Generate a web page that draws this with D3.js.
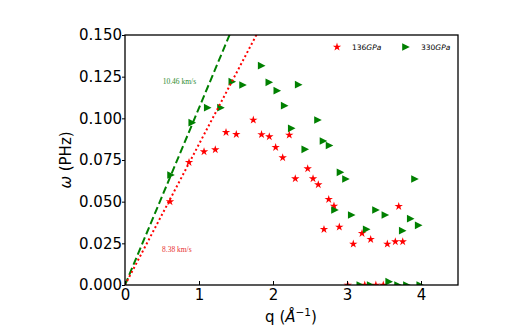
<!DOCTYPE html>
<html><head><meta charset="utf-8">
<script src="https://cdn.jsdelivr.net/npm/d3@7"></script>
<style>body{margin:0;background:#fff}</style>
</head><body>
<svg id="c" width="531" height="336"></svg>
<script>
// ---- data ----
const q136 = [0.608,0.865,1.068,1.220,1.365,1.504,1.734,1.845,1.950,2.036,2.131,2.220,2.301,2.469,2.541,2.612,2.689,2.753,2.824,2.896,3.085,3.203,3.320,3.545,3.653,3.753,3.699,3.01,3.24,3.39,3.49];
const w136 = [0.0500,0.0736,0.0800,0.0812,0.0916,0.0904,0.0990,0.0903,0.0890,0.0826,0.0764,0.0900,0.0638,0.0698,0.0638,0.0602,0.0334,0.0514,0.0474,0.0348,0.0246,0.0310,0.0274,0.0246,0.0260,0.0260,0.0472,0,0,0,0];
const q330 = [0.622,0.909,1.118,1.297,1.450,1.595,1.847,1.950,2.058,2.158,2.253,2.347,2.436,2.608,2.682,2.764,2.838,2.912,2.986,3.064,3.266,3.392,3.518,3.753,3.861,3.919,3.969,3.18,3.32,3.57,3.69,3.81,3.99];
const w330 = [0.0660,0.0974,0.1064,0.1064,0.1220,0.1200,0.1316,0.1216,0.1166,0.1076,0.0940,0.1202,0.0814,0.0990,0.0864,0.0837,0.0450,0.0676,0.0636,0.0420,0.0334,0.0450,0.0420,0.0326,0.0398,0.0636,0.0358,0,0,0.002,0,0,0];
const seriesNames = ["136", "330"];
const speedLabels = ["10.46 km/s", "8.38 km/s"];
const speedSlopes = [0.1062, 0.0845];   // PHz per Å^-1 (green, red)
const xTicks = [0, 1, 2, 3, 4];
const yTicks = [0, 0.025, 0.05, 0.075, 0.1, 0.125, 0.15];
const xDomain = [0, 4.5];
const yDomain = [0, 0.15];

// ---- layout ----
const svg = d3.select("#c");
const L = 125, R = 458, T = 35, B = 285;
const x = d3.scaleLinear().domain(xDomain).range([L, R]);
const y = d3.scaleLinear().domain(yDomain).range([B, T]);
const font = "'DejaVu Sans', sans-serif";

svg.append("defs").append("clipPath").attr("id", "clip")
  .append("rect").attr("x", L).attr("y", T).attr("width", R - L).attr("height", B - T);

const plot = svg.append("g").attr("clip-path", "url(#clip)");

const star = d3.symbol().type(d3.symbolStar).size(22);
function triRight(s) { return `M${s},0L${-s},${s}L${-s},${-s}Z`; }

// scatter 136 GPa
plot.selectAll(".s136").data(q136.map((q, i) => [q, w136[i]])).enter()
  .append("path").attr("d", star)
  .attr("transform", d => `translate(${x(d[0])},${y(d[1])})`)
  .attr("fill", "red");
// scatter 330 GPa
plot.selectAll(".s330").data(q330.map((q, i) => [q, w330[i]])).enter()
  .append("path").attr("d", triRight(3.8))
  .attr("transform", d => `translate(${x(d[0])},${y(d[1])})`)
  .attr("fill", "green");

// sound-speed lines
const lineGen = d3.line().x(d => x(d[0])).y(d => y(d[1]));
plot.append("path")
  .attr("d", lineGen([[0, 0], [0.16 / speedSlopes[0], 0.16]]))
  .attr("stroke", "green").attr("stroke-width", 2).attr("fill", "none")
  .attr("stroke-dasharray", "7.5,3.5");
plot.append("path")
  .attr("d", lineGen([[0, 0], [0.16 / speedSlopes[1], 0.16]]))
  .attr("stroke", "red").attr("stroke-width", 2).attr("fill", "none")
  .attr("stroke-dasharray", "2,2.6");

// annotations
svg.append("text").attr("x", x(0.51)).attr("y", y(0.1208))
  .attr("font-family", "'Liberation Serif', serif").attr("font-size", 7.5)
  .attr("fill", "#2e8b2e").text(speedLabels[0]);
svg.append("text").attr("x", x(0.50)).attr("y", y(0.0196))
  .attr("font-family", "'Liberation Serif', serif").attr("font-size", 7.5)
  .attr("fill", "#e83030").text(speedLabels[1]);

// axes
const xAxis = svg.append("g").attr("transform", `translate(0,${B})`)
  .call(d3.axisBottom(x).tickValues(xTicks).tickFormat(d3.format("d"))
    .tickSizeInner(-4).tickSizeOuter(0).tickPadding(4));
const yAxis = svg.append("g").attr("transform", `translate(${L},0)`)
  .call(d3.axisLeft(y).tickValues(yTicks).tickFormat(d3.format(".3f"))
    .tickSizeInner(3).tickSizeOuter(0).tickPadding(0));
[xAxis, yAxis].forEach(g => {
  g.select(".domain").remove();
  g.selectAll("text").attr("font-family", font).attr("font-size", 15).attr("fill", "#000");
  g.selectAll("line").attr("stroke", "#000").attr("stroke-width", 1);
});

// frame
svg.append("rect").attr("x", L).attr("y", T).attr("width", R - L).attr("height", B - T)
  .attr("fill", "none").attr("stroke", "#000").attr("stroke-width", 1.3);

// axis labels
const xl = svg.append("text").attr("x", 291).attr("y", 322)
  .attr("text-anchor", "middle").attr("font-family", font).attr("font-size", 15);
xl.append("tspan").text("q (");
xl.append("tspan").attr("font-style", "italic").text("Å");
xl.append("tspan").attr("font-size", 10.5).attr("dy", -6).text("−1");
xl.append("tspan").attr("dy", 6).text(")");

const yl = svg.append("text").attr("transform", "translate(71,160) rotate(-90)")
  .attr("text-anchor", "middle").attr("font-family", font).attr("font-size", 15);
yl.append("tspan").attr("font-style", "italic").text("ω");
yl.append("tspan").text(" (PHz)");

// legend
const leg = svg.append("g").attr("font-family", font).attr("font-size", 7.5);
const legItems = [
  { name: seriesNames[0], color: "red", sym: star(), lx: 337 },
  { name: seriesNames[1], color: "green", sym: triRight(3.8), lx: 406 }
];
legItems.forEach(it => {
  leg.append("path").attr("d", it.sym).attr("fill", it.color)
    .attr("transform", `translate(${it.lx},47)`);
  const t = leg.append("text").attr("x", it.lx + 15).attr("y", 50);
  t.append("tspan").text(it.name);
  t.append("tspan").attr("font-style", "italic").text("GPa");
});
</script>
</body></html>
